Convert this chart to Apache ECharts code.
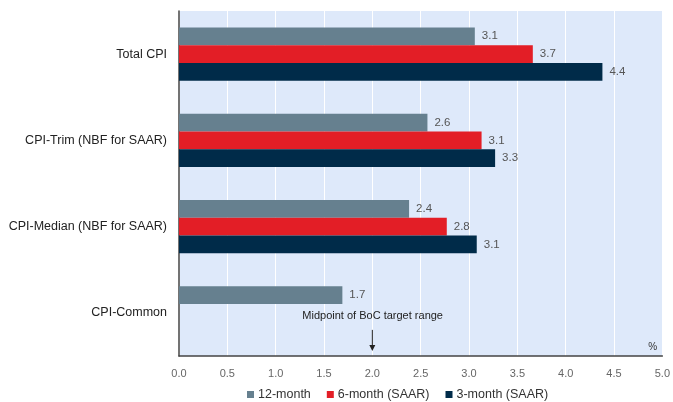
<!DOCTYPE html>
<html><head><meta charset="utf-8">
<script src="https://cdn.jsdelivr.net/npm/echarts@6/dist/echarts.min.js"></script>
<style>html,body{margin:0;padding:0;background:#fff}#c{width:673px;height:402px}</style>
</head><body><div id="c"></div>
<script>
var categories = ['Total CPI', 'CPI-Trim (NBF for SAAR)', 'CPI-Median (NBF for SAAR)', 'CPI-Common'];
var seriesNames = ['12-month', '6-month (SAAR)', '3-month (SAAR)'];
var month12 = [3.06, 2.57, 2.38, 1.69];
var month6 = [3.66, 3.13, 2.77, null];
var month3 = [4.38, 3.27, 3.08, null];
var xTicks = [0, 0.5, 1, 1.5, 2, 2.5, 3, 3.5, 4, 4.5, 5];
var targetMid = 2.0;
var annotationText = 'Midpoint of BoC target range';
var unitText = '%';

var colors = ['#66808f', '#e31e26', '#002b49'];
var font = 'Liberation Sans, Arial, sans-serif';
var chart = echarts.init(document.getElementById('c'));

function mk(name, data, color) {
  return {
    name: name, type: 'bar', data: data,
    itemStyle: { color: color },
    barGap: '0%', barCategoryGap: '38%',
    label: { show: true, position: 'right', distance: 7, color: '#555', fontSize: 11.5, fontFamily: font,
      formatter: function (p) { return p.value == null ? '' : Number(p.value).toFixed(1); } }
  };
}

chart.setOption({
  animation: false,
  textStyle: { fontFamily: font },
  grid: { left: 179, right: 10, top: 11, bottom: 46, show: true, backgroundColor: '#dee9fa', borderWidth: 0 },
  xAxis: {
    type: 'value', min: xTicks[0], max: xTicks[xTicks.length - 1], interval: 0.5,
    axisLine: { show: true, lineStyle: { color: '#444', width: 1.5 } },
    axisTick: { show: false },
    splitLine: { show: true, lineStyle: { color: '#ffffff', width: 1 } },
    axisLabel: { color: '#666', fontSize: 11, margin: 12, formatter: function (v) { return v.toFixed(1); } }
  },
  yAxis: {
    type: 'category', data: categories, inverse: true,
    axisLine: { show: true, lineStyle: { color: '#444', width: 1.5 } },
    axisTick: { show: false },
    axisLabel: { color: '#222', fontSize: 12.5, margin: 12 }
  },
  legend: {
    top: 388, left: 242, itemWidth: 7, itemHeight: 7, itemGap: 16, icon: 'rect', padding: [0, 5],
    data: seriesNames,
    textStyle: { color: '#333', fontSize: 12.5, padding: [0, 0, 0, -1] }
  },
  series: [mk(seriesNames[0], month12, colors[0]), mk(seriesNames[1], month6, colors[1]), mk(seriesNames[2], month3, colors[2])]
});

var px = chart.convertToPixel({ xAxisIndex: 0 }, targetMid);
var cy = chart.convertToPixel({ yAxisIndex: 0 }, categories[3]);
var right = chart.convertToPixel({ xAxisIndex: 0 }, xTicks[xTicks.length - 1]);
var bottomY = 402 - 46;
chart.setOption({
  graphic: [
    { type: 'text', left: px - 70, top: cy - 2, style: { text: annotationText, fill: '#222', fontSize: 11, fontFamily: font } },
    { type: 'line', shape: { x1: px, y1: cy + 17, x2: px, y2: bottomY - 8 }, style: { stroke: '#222', lineWidth: 1 } },
    { type: 'polygon', shape: { points: [[px - 3, bottomY - 11], [px + 3, bottomY - 11], [px, bottomY - 5]] }, style: { fill: '#222' } },
    { type: 'text', left: right - 14, top: bottomY - 14, style: { text: unitText, fill: '#333', fontSize: 10, fontFamily: font } }
  ]
});
</script></body></html>
